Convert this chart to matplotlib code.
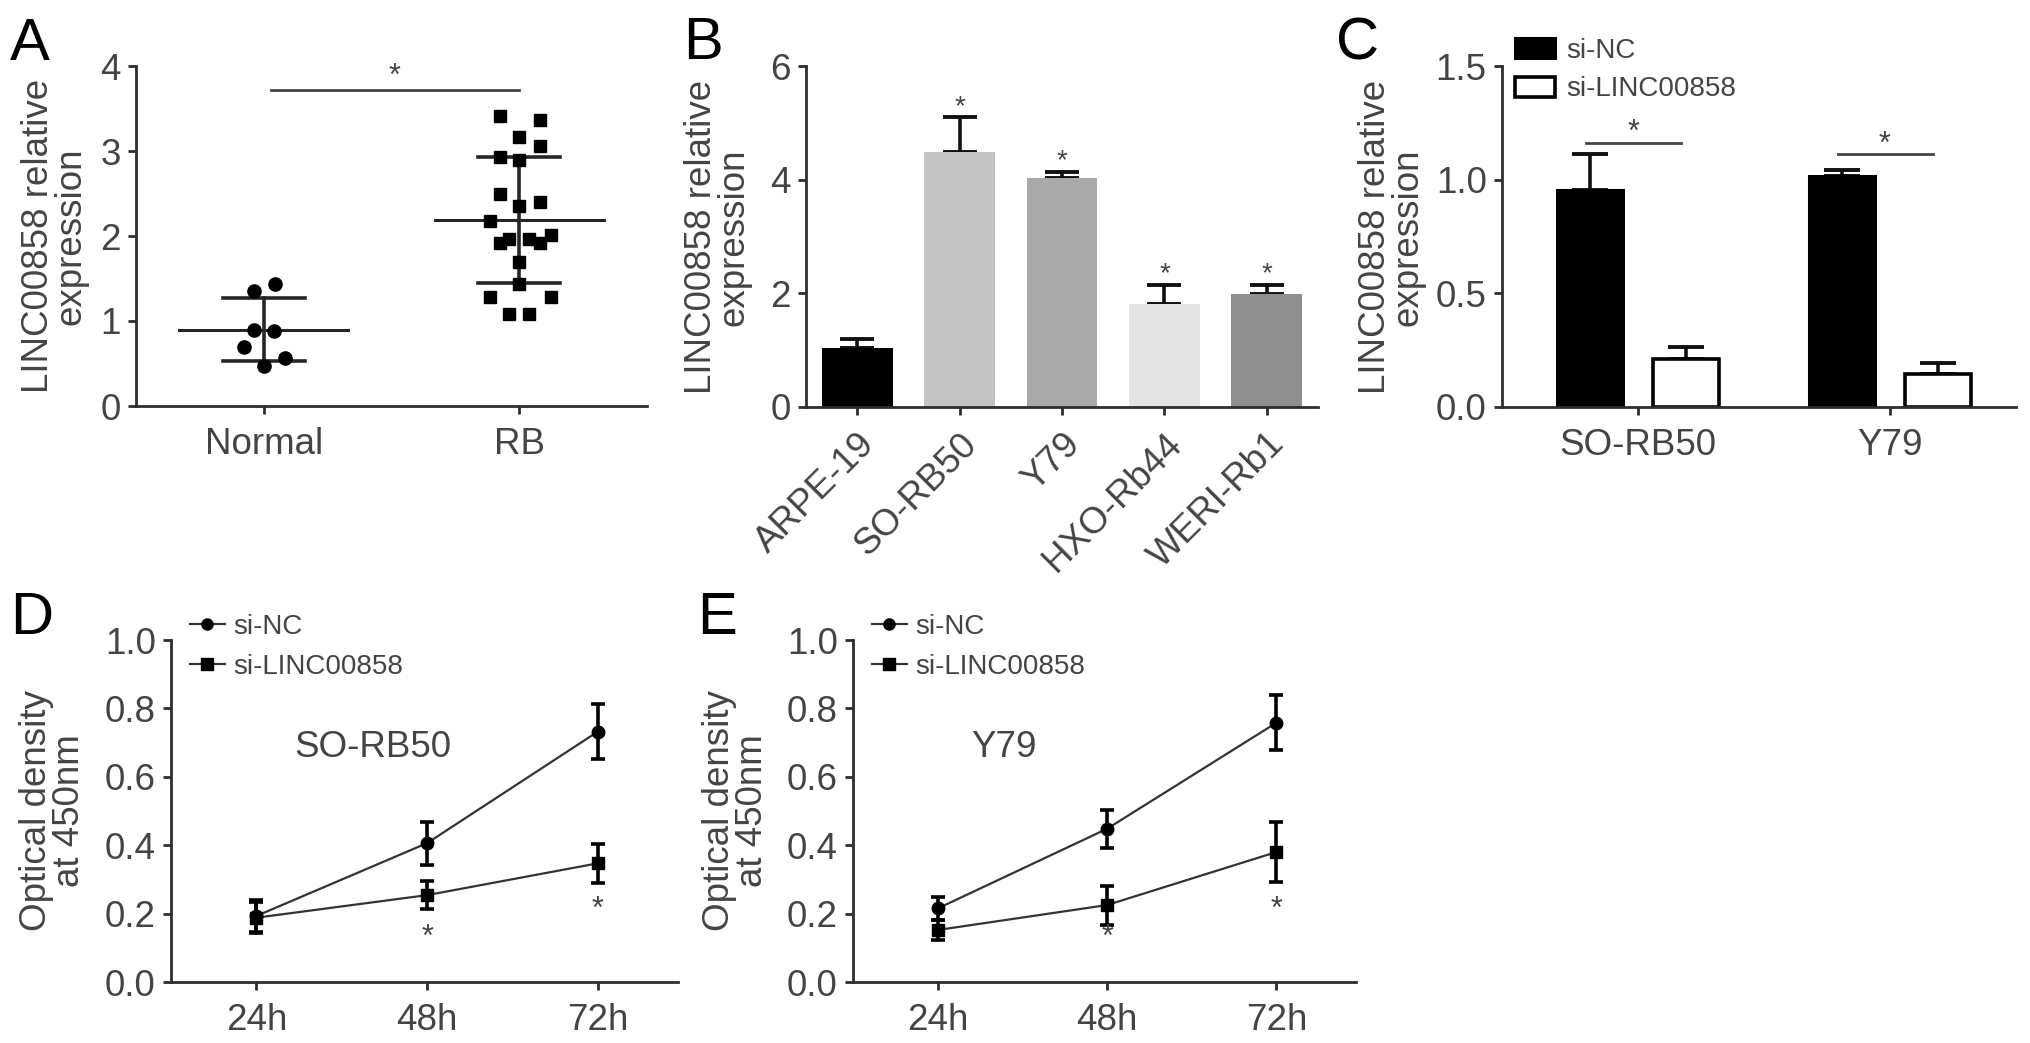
import matplotlib
matplotlib.use('Agg')
import matplotlib.pyplot as plt
from matplotlib.patches import Patch
from matplotlib.lines import Line2D
import numpy as np

plt.rcParams['font.family'] = ['Liberation Sans', 'DejaVu Sans']

# ---------------- data ----------------
# Panel A
a_groups = ['Normal', 'RB']
normal_vals = [1.44, 1.35, 0.89, 0.88, 0.70, 0.56, 0.47]
normal_jitter = [0.044, -0.037, -0.037, 0.041, -0.076, 0.083, 0.0]
rb_vals = [3.41, 3.37, 3.17, 3.06, 2.93, 2.89, 2.50, 2.40, 2.35, 2.18, 2.01,
           1.97, 1.97, 1.92, 1.92, 1.70, 1.44, 1.28, 1.28, 1.08, 1.08]
rb_jitter = [-0.076, 0.081, 0.0, 0.081, -0.076, 0.0, -0.076, 0.081, 0.0, -0.116, 0.125,
             -0.04, 0.04, -0.076, 0.081, 0.0, 0.0, -0.116, 0.125, -0.04, 0.04]
a_mean = [0.90, 2.19]
a_sd = [0.37, 0.745]

# Panel B
b_cells = ['ARPE-19', 'SO-RB50', 'Y79', 'HXO-Rb44', 'WERI-Rb1']
b_vals = [1.04, 4.48, 4.03, 1.81, 1.98]
b_err = [0.16, 0.62, 0.11, 0.34, 0.17]
b_colors = ['#000000', '#c3c3c3', '#a9a9a9', '#e4e4e4', '#8f8f8f']

# Panel C
c_cells = ['SO-RB50', 'Y79']
c_nc = [0.953, 1.016]
c_nc_err = [0.158, 0.028]
c_si = [0.213, 0.147]
c_si_err = [0.051, 0.048]

# Panels D / E
times = ['24h', '48h', '72h']
d_nc = [0.193, 0.406, 0.732]
d_nc_err = [0.046, 0.063, 0.080]
d_si = [0.188, 0.254, 0.347]
d_si_err = [0.045, 0.040, 0.057]
e_nc = [0.215, 0.448, 0.758]
e_nc_err = [0.033, 0.056, 0.081]
e_si = [0.152, 0.225, 0.380]
e_si_err = [0.030, 0.057, 0.087]

# ---------------- style ----------------
W, H = 2031, 1043
TXT = '#444444'
AXC = '#2e2e2e'
FS = 26.5
fig = plt.figure(figsize=(W / 100, H / 100), dpi=100)


def add_ax(l, r, t, b):
    return fig.add_axes([l / W, 1 - b / H, (r - l) / W, (b - t) / H])


def style(ax):
    for s in ['top', 'right']:
        ax.spines[s].set_visible(False)
    for s in ['left', 'bottom']:
        ax.spines[s].set_color(AXC)
        ax.spines[s].set_linewidth(2.0)
    ax.tick_params(direction='out', length=6, width=2.0, color=AXC,
                   labelsize=FS, labelcolor=TXT, pad=5)


def ylabel(x, y, s):
    fig.text(x / W, 1 - y / H, s, rotation=90, ha='center', va='center',
             fontsize=FS, color=TXT, linespacing=0.9, multialignment='center')


def letter(x, y, s):
    fig.text(x / W, 1 - y / H, s, ha='left', va='baseline', fontsize=43, color='black')


# ---------------- Panel A ----------------
axA = add_ax(136, 647, 66, 406)
style(axA)
axA.plot(np.array(normal_jitter), normal_vals, 'o', color='black', ms=9.5, zorder=3)
axA.plot(1 + np.array(rb_jitter), rb_vals, 's', color='black', ms=9, zorder=3)
for i, (m, sd) in enumerate(zip(a_mean, a_sd)):
    axA.plot([i - 0.33, i + 0.33], [m, m], color='#262626', lw=2.2, zorder=2)
    axA.plot([i - 0.16, i + 0.16], [m + sd, m + sd], color='#262626', lw=2.6, zorder=2)
    axA.plot([i - 0.16, i + 0.16], [m - sd, m - sd], color='#262626', lw=2.6, zorder=2)
    axA.plot([i, i], [m - sd, m + sd], color='#262626', lw=2.6, zorder=2)
axA.plot([0.03, 1.0], [3.72, 3.72], color='#444444', lw=2.0, clip_on=False)
axA.text(0.51, 3.69, '*', ha='center', va='bottom', fontsize=22, color=TXT)
axA.set_xlim(-0.5, 1.5)
axA.set_ylim(0, 4)
axA.set_yticks([0, 1, 2, 3, 4])
axA.set_xticks([0, 1])
axA.set_xticklabels(a_groups)
axA.tick_params(axis='x', pad=9)
ylabel(55, 236, 'LINC00858 relative\nexpression')
letter(10, 60, 'A')

# ---------------- Panel B ----------------
axB = add_ax(806, 1318, 66, 407)
style(axB)
xb = np.arange(len(b_cells))
axB.bar(xb, b_vals, width=0.69, color=b_colors, edgecolor='none', zorder=2)
axB.errorbar(xb, b_vals, yerr=[np.zeros(len(b_vals)), b_err], fmt='none',
             ecolor='#111111', elinewidth=2.6, capsize=12, capthick=2.8, zorder=1)
for xi, v, e in zip(xb[1:], b_vals[1:], b_err[1:]):
    axB.text(xi, v + e - 0.05, '*', ha='center', va='bottom', fontsize=20, color=TXT)
axB.set_xlim(-0.5, 4.5)
axB.set_ylim(0, 6)
axB.set_yticks([0, 2, 4, 6])
axB.set_xticks(xb)
axB.set_xticklabels(b_cells, rotation=45, ha='right', rotation_mode='anchor')
axB.tick_params(axis='x', pad=8)
ylabel(718, 237, 'LINC00858 relative\nexpression')
letter(683, 59, 'B')

# ---------------- Panel C ----------------
axC = add_ax(1502, 2016, 66, 407)
style(axC)
xc = np.arange(len(c_cells))
off, bw = 0.19, 0.26
axC.bar(xc - off, c_nc, width=bw, color='black', edgecolor='black', lw=2.2, zorder=2)
axC.bar(xc + off, c_si, width=bw, color='white', edgecolor='black', lw=2.6, zorder=2)
axC.errorbar(xc - off, c_nc, yerr=[np.zeros(2), c_nc_err], fmt='none', ecolor='#111111',
             elinewidth=2.6, capsize=13, capthick=2.8, zorder=1)
axC.errorbar(xc + off, c_si, yerr=[np.zeros(2), c_si_err], fmt='none', ecolor='#111111',
             elinewidth=2.6, capsize=13, capthick=2.8, zorder=1)
sig_c = [1.163, 1.111]
for xi, y in zip(xc, sig_c):
    axC.plot([xi - 0.205, xi + 0.17], [y, y], color='#444444', lw=2.0)
    axC.text(xi - 0.02, y - 0.025, '*', ha='center', va='bottom', fontsize=22, color=TXT)
axC.set_xlim(-0.54, 1.5)
axC.set_ylim(0, 1.5)
axC.set_yticks([0, 0.5, 1.0, 1.5])
axC.set_yticklabels(['0.0', '0.5', '1.0', '1.5'])
axC.set_xticks(xc)
axC.set_xticklabels(c_cells)
axC.tick_params(axis='x', pad=9)
legC = axC.legend(handles=[Patch(facecolor='black', edgecolor='black', lw=2.2),
                           Patch(facecolor='white', edgecolor='black', lw=2.6)],
                  labels=['si-NC', 'si-LINC00858'], loc='upper left',
                  bbox_to_anchor=(1515 / W, 1 - 38 / H), bbox_transform=fig.transFigure,
                  frameon=False, fontsize=20, handlelength=1.45, handleheight=0.75,
                  handletextpad=0.4, labelspacing=0.45, borderpad=0, borderaxespad=0)
for t in legC.get_texts():
    t.set_color(TXT)
ylabel(1392, 237, 'LINC00858 relative\nexpression')
letter(1336, 59, 'C')


# ---------------- Panels D and E ----------------
def growth(ax, nc, nce, si, sie, title, tx, legx):
    style(ax)
    xt = np.arange(len(times))
    ax.plot(xt, nc, color='#333333', lw=1.6, zorder=2)
    ax.plot(xt, si, color='#333333', lw=1.6, zorder=2)
    ax.errorbar(xt, nc, yerr=nce, fmt='o', color='black', ms=9, elinewidth=2.6,
                capsize=5, capthick=2.6, zorder=3)
    ax.errorbar(xt, si, yerr=sie, fmt='s', color='black', ms=9, elinewidth=2.6,
                capsize=5, capthick=2.6, zorder=3)
    ax.text(1, 0.085, '*', ha='center', va='bottom', fontsize=22, color=TXT)
    ax.text(2, 0.168, '*', ha='center', va='bottom', fontsize=22, color=TXT)
    ax.text(tx, 0.685, title, ha='center', va='center', fontsize=FS, color=TXT)
    ax.set_xlim(-0.5, 2.47)
    ax.set_ylim(0, 1.0)
    ax.set_yticks(np.round(np.arange(0, 1.01, 0.2), 1))
    ax.set_yticklabels(['0.0', '0.2', '0.4', '0.6', '0.8', '1.0'])
    ax.set_xticks(xt)
    ax.set_xticklabels(times)
    ax.tick_params(axis='x', pad=9)
    leg = ax.legend(handles=[Line2D([], [], color='#333333', lw=1.6, marker='o', ms=8,
                                    markerfacecolor='black', markeredgecolor='black'),
                             Line2D([], [], color='#333333', lw=1.6, marker='s', ms=8,
                                    markerfacecolor='black', markeredgecolor='black')],
                    labels=['si-NC', 'si-LINC00858'], loc='upper left',
                    bbox_to_anchor=(legx / W, 1 - 614 / H), bbox_transform=fig.transFigure,
                    frameon=False, fontsize=20, handlelength=1.25, handletextpad=0.3,
                    labelspacing=0.5, borderpad=0, borderaxespad=0)
    for t in leg.get_texts():
        t.set_color(TXT)


axD = add_ax(171, 678, 640, 982)
growth(axD, d_nc, d_nc_err, d_si, d_si_err, 'SO-RB50', 0.68, 190)
ylabel(53, 811, 'Optical density\nat 450nm')
letter(10, 634, 'D')

axE = add_ax(853, 1356, 640, 982)
growth(axE, e_nc, e_nc_err, e_si, e_si_err, 'Y79', 0.39, 872)
ylabel(736, 811, 'Optical density\nat 450nm')
letter(697, 634, 'E')

fig.savefig('out.png', dpi=100, facecolor='white')
